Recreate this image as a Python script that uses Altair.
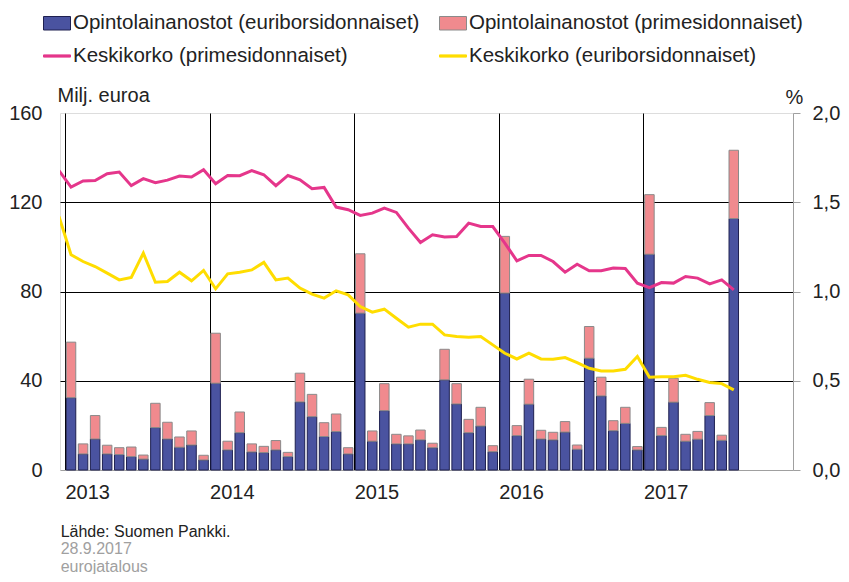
import json
import altair as alt
import pandas as pd

# ---- data (monthly, Jan 2013 - Aug 2017) ----
years = ["2013", "2014", "2015", "2016", "2017"]

series_names = [
    "Opintolainanostot (euriborsidonnaiset)",
    "Opintolainanostot (primesidonnaiset)",
    "Keskikorko (primesidonnaiset)",
    "Keskikorko (euriborsidonnaiset)",
]

# Student loan drawdowns, EUR million
euribor_loans = [
    32.4, 7.2, 13.9, 7.2, 6.9, 6.0, 4.9, 19.0, 13.9, 10.2, 11.2, 4.5,
    38.9, 9.0, 16.7, 8.1, 7.8, 9.0, 6.0, 30.5, 23.9, 15.0, 17.2, 7.2,
    70.3, 12.9, 26.6, 11.7, 11.7, 13.5, 10.0, 40.4, 29.6, 16.7, 19.7, 8.2,
    79.3, 15.4, 29.5, 13.9, 13.5, 17.0, 9.3, 50.1, 33.2, 17.6, 20.9, 9.0,
    96.7, 15.4, 30.4, 12.9, 13.8, 24.4, 13.3, 112.7,
]
prime_loans = [
    24.9, 4.5, 10.5, 3.9, 3.1, 4.3, 1.8, 10.9, 7.5, 4.6, 6.3, 2.1,
    22.4, 3.9, 9.3, 3.6, 2.8, 4.2, 1.9, 12.9, 10.0, 6.2, 7.9, 2.8,
    26.6, 4.6, 12.1, 4.3, 3.6, 4.4, 2.0, 13.7, 9.1, 6.0, 8.4, 2.7,
    25.4, 4.5, 11.2, 3.9, 3.4, 4.7, 1.9, 14.2, 8.4, 4.5, 7.2, 1.5,
    26.7, 3.7, 10.7, 3.1, 3.5, 5.8, 2.3, 30.6,
]

# Average interest rate, % (first value = Dec 2012)
prime_rate = [
    1.677,
    1.585, 1.619, 1.622, 1.660, 1.669, 1.593, 1.632, 1.609, 1.624, 1.647, 1.641, 1.682,
    1.604, 1.650, 1.649, 1.677, 1.654, 1.593, 1.650, 1.626, 1.576, 1.583, 1.473, 1.458,
    1.426, 1.439, 1.467, 1.443, 1.355, 1.275, 1.318, 1.305, 1.308, 1.383, 1.364, 1.364,
    1.271, 1.172, 1.202, 1.202, 1.168, 1.108, 1.153, 1.116, 1.116, 1.131, 1.129, 1.047,
    1.022, 1.050, 1.047, 1.084, 1.075, 1.043, 1.065, 1.009,
]
euribor_rate = [
    1.420,
    1.206, 1.168, 1.140, 1.103, 1.065, 1.079, 1.215, 1.052, 1.056, 1.108, 1.060, 1.118,
    1.015, 1.099, 1.108, 1.121, 1.163, 1.065, 1.075, 1.019, 0.985, 0.963, 1.004, 0.981,
    0.916, 0.884, 0.901, 0.850, 0.800, 0.817, 0.817, 0.757, 0.748, 0.744, 0.748, 0.701,
    0.654, 0.622, 0.654, 0.622, 0.621, 0.630, 0.602, 0.570, 0.555, 0.555, 0.564, 0.636,
    0.520, 0.523, 0.523, 0.531, 0.508, 0.490, 0.484, 0.449,
]

fill_colors = ["#4a53a0", "#f08a8e", "#e5368b", "#ffdd00"]
stroke_colors = ["#1e2050", "#8a8a8a", "#e5368b", "#ffdd00"]
rect_path = "M-1,-0.5H1V0.5H-1Z"
line_path = "M-1,-0.08H1V0.08H-1Z"

# ---- tables ----
bar_rows = []
for i, (e, p) in enumerate(zip(euribor_loans, prime_loans)):
    bar_rows.append({"m": i + 0.5, "series": series_names[0], "value": e, "ord": 0})
    bar_rows.append({"m": i + 0.5, "series": series_names[1], "value": p, "ord": 1})
bars_df = pd.DataFrame(bar_rows)

line_rows = []
for i, (p, e) in enumerate(zip(prime_rate, euribor_rate)):
    line_rows.append({"m": i - 0.5, "series": series_names[2], "rate": p})
    line_rows.append({"m": i - 0.5, "series": series_names[3], "rate": e})
lines_df = pd.DataFrame(line_rows)

legend_df = pd.DataFrame({"series": series_names})

FONT = "Liberation Sans"
GRID_GREY = "#a0a0a0"

fill_scale = alt.Scale(domain=series_names, range=fill_colors)
stroke_scale = alt.Scale(domain=series_names, range=stroke_colors)
shape_scale = alt.Scale(domain=series_names, range=[rect_path, rect_path, line_path, line_path])

leg = alt.Legend(
    title=None, orient="none", direction="horizontal", legendX=-17, legendY=-104, columns=2,
    columnPadding=17, rowPadding=8, labelFontSize=20.5, labelFont=FONT,
    labelColor="#222222", symbolSize=729, symbolStrokeWidth=1, labelOffset=2,
    symbolOpacity=1, labelLimit=500,
)

x_enc = alt.X(
    "m:Q",
    scale=alt.Scale(domain=[0, 60], nice=False, zero=False),
    axis=alt.Axis(
        values=[0, 12, 24, 36, 48],
        labelExpr=json.dumps(years) + "[round(datum.value / 12)]",
        grid=True, gridColor="black", gridWidth=1,
        ticks=False, tickSize=0,
        labelAlign="left", labelBaseline="top", labelPadding=12,
        labelFontSize=20, labelColor="#222222", labelOverlap=False, labelFlush=False,
        domainColor=GRID_GREY, title=None,
    ),
)

bars = alt.Chart(bars_df).mark_bar(size=9.5, strokeWidth=1).encode(
    x=x_enc,
    y=alt.Y(
        "value:Q", stack="zero",
        scale=alt.Scale(domain=[0, 160], nice=False),
        axis=alt.Axis(
            values=[0, 40, 80, 120, 160],
            grid=True, gridColor="black", gridWidth=1,
            gridOpacity={"condition": {"test": "datum.value === 0 || datum.value === 160", "value": 0}, "value": 1},
            domain=False, ticks=False, tickSize=0, labelPadding=18,
            labelFontSize=20, labelColor="#222222",
            title="Milj. euroa", titleAngle=0, titleAlign="left", titleBaseline="middle",
            titleX=-3, titleY=-18, titleFontSize=20, titleFontWeight="normal", titleColor="#222222",
        ),
    ),
    fill=alt.Fill("series:N", scale=fill_scale, legend=leg),
    stroke=alt.Stroke("series:N", scale=stroke_scale, legend=leg),
    order=alt.Order("ord:Q"),
)

lines = alt.Chart(lines_df).mark_line(strokeWidth=3, clip=True).encode(
    x=alt.X("m:Q"),
    y=alt.Y(
        "rate:Q",
        scale=alt.Scale(domain=[0, 2], nice=False),
        axis=alt.Axis(
            orient="right", values=[0, 0.5, 1, 1.5, 2],
            labelExpr="replace(format(datum.value, '.1f'), '.', ',')",
            grid=False, domainColor=GRID_GREY, tickColor=GRID_GREY, tickSize=7,
            labelPadding=12, labelFontSize=20, labelColor="#222222",
            title="%", titleAngle=0, titleAlign="center", titleBaseline="middle",
            titleX=1, titleY=-16, titleFontSize=20, titleFontWeight="normal", titleColor="#222222",
        ),
    ),
    color=alt.Color("series:N", scale=alt.Scale(domain=series_names[2:], range=fill_colors[2:]), legend=None),
    detail="series:N",
)

legend_layer = alt.Chart(legend_df).mark_point(filled=True, opacity=1).encode(
    fill=alt.Fill("series:N", scale=fill_scale, legend=leg),
    stroke=alt.Stroke("series:N", scale=stroke_scale, legend=leg),
    shape=alt.Shape("series:N", scale=shape_scale, legend=leg),
).transform_filter("false")

chart = (
    alt.layer(bars, lines, legend_layer)
    .resolve_scale(y="independent")
    .properties(
        width=733, height=357,
        padding={"left": 52, "top": 105, "right": 48, "bottom": 104},
        autosize=alt.AutoSizeParams(type="none"),
        title=alt.TitleParams(
            text="Lähde: Suomen Pankki.",
            subtitle=["28.9.2017", "eurojatalous"],
            orient="bottom", anchor="start", offset=22, dx=52,
            fontSize=16, fontWeight="normal", color="#222222", font=FONT,
            subtitleFontSize=16, subtitleColor="#a0a0a0", subtitleFont=FONT,
            subtitlePadding=1,
        ),
    )
    .configure_view(stroke=GRID_GREY, strokeWidth=1)
    .configure(font=FONT)
    .configure_axis(labelFont=FONT, titleFont=FONT)
)

chart.save("out.html", embed_options={"renderer": "svg", "actions": False})
